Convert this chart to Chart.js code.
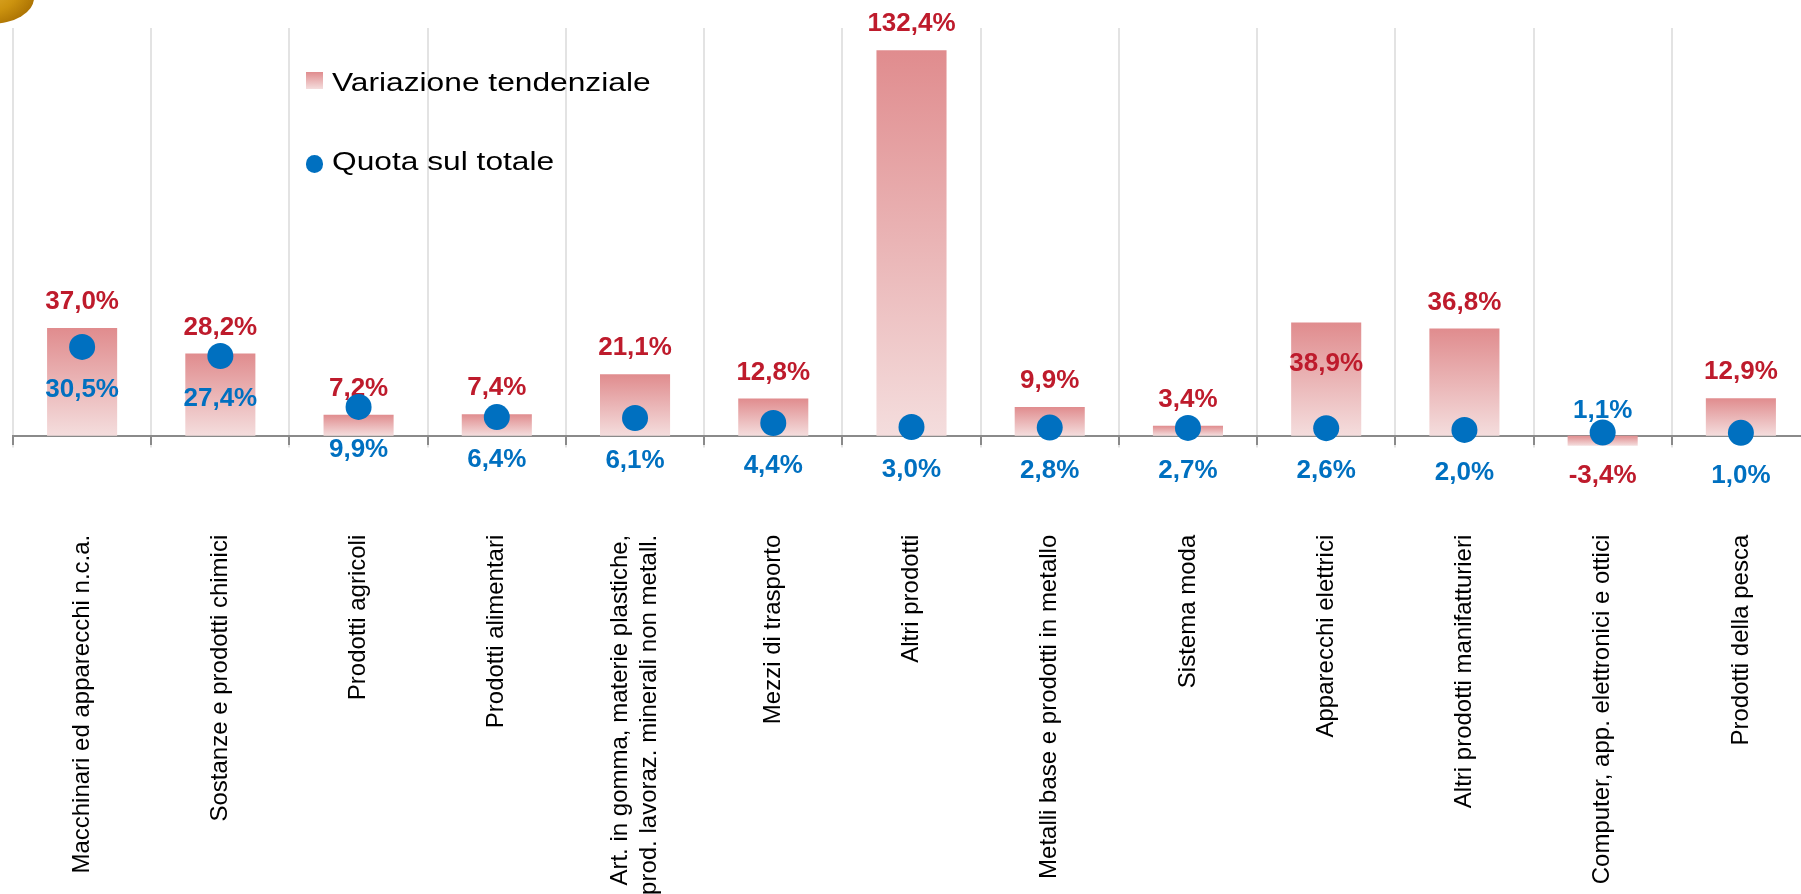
<!DOCTYPE html>
<html>
<head>
<meta charset="utf-8">
<script src="https://cdn.jsdelivr.net/npm/chart.js@4.4.1/dist/chart.umd.min.js"></script>
<style>
html,body{margin:0;padding:0;background:#fff;overflow:hidden;width:1801px;height:894px;}
#wrap{position:relative;width:1801px;height:894px;overflow:hidden;}
#c{position:absolute;left:0;top:0;width:1810px;height:894px;}
.coin{position:absolute;left:-54px;top:-28px;width:88px;height:52px;border-radius:50%;
  background:radial-gradient(ellipse at 45% 25%, #E6B236 0%, #CC930F 50%, #A46B00 85%, #8A5800 100%);}
.legtxt{position:absolute;font-family:'Liberation Sans',Arial,sans-serif;font-size:26px;line-height:26px;color:#000;
  white-space:nowrap;transform:scaleX(1.22);transform-origin:0 0;}
.legsw{position:absolute;}
</style>
</head>
<body>
<div id="wrap">
  <canvas id="c" width="1810" height="894"></canvas>
  <div class="coin"></div>
  <div id="legend"></div>
</div>
<script>
// ---------- DATA ----------
const categories = [
  'Macchinari ed apparecchi n.c.a.',
  'Sostanze e prodotti chimici',
  'Prodotti agricoli',
  'Prodotti alimentari',
  ['Art. in gomma, materie plastiche,', 'prod. lavoraz. minerali non metall.'],
  'Mezzi di trasporto',
  'Altri prodotti',
  'Metalli base e prodotti in metallo',
  'Sistema moda',
  'Apparecchi elettrici',
  'Altri prodotti manifatturieri',
  'Computer, app. elettronici e ottici',
  'Prodotti della pesca'
];
const variazioneTendenziale = [37.0, 28.2, 7.2, 7.4, 21.1, 12.8, 132.4, 9.9, 3.4, 38.9, 36.8, -3.4, 12.9];
const quotaSulTotale = [30.5, 27.4, 9.9, 6.4, 6.1, 4.4, 3.0, 2.8, 2.7, 2.6, 2.0, 1.1, 1.0];
const seriesNames = ['Variazione tendenziale', 'Quota sul totale'];

// ---------- STYLE ----------
const RED = '#BE1B2C';
const BLUE = '#0070C0';
const BAR_TOP = '#E08C8E';
const BAR_BOTTOM = '#F4DDDD';
const FONT = "'Liberation Sans', Arial, sans-serif";
// label placement overrides by category index (style only)
const redPlacement = {9: 'inside'};
const bluePlacement = {11: 'above'};

const fmt = v => v.toFixed(1).replace('.', ',') + '%';

function barGradient(ctx) {
  const chart = ctx.chart;
  const {chartArea, scales} = chart;
  if (!chartArea || !scales.y || ctx.type !== 'data') return BAR_TOP;
  const y0 = scales.y.getPixelForValue(0);
  const y1 = scales.y.getPixelForValue(ctx.raw);
  const top = Math.min(y0, y1), bot = Math.max(y0, y1);
  const g = chart.ctx.createLinearGradient(0, top, 0, bot + 0.01);
  g.addColorStop(0, BAR_TOP);
  g.addColorStop(1, BAR_BOTTOM);
  return g;
}

const multiLineFix = {
  id: 'multiLineFix',
  beforeDraw(chart) {
    const sx = chart.scales.x;
    const items = sx.getLabelItems(chart.chartArea);
    if (items._fixed) return;
    items.forEach(it => {
      if (Array.isArray(it.label) && it.label.length > 1) {
        it.textOffset -= (it.label.length - 1) * it.font.lineHeight / 2;
      }
    });
    items._fixed = true;
  }
};

const valueLabels = {
  id: 'valueLabels',
  afterDatasetDraw(chart, args) {
    if (args.index !== 0) return;
    const ctx = chart.ctx;
    const barMeta = chart.getDatasetMeta(0);
    const dotMeta = chart.getDatasetMeta(1);
    ctx.save();
    ctx.font = 'bold 26px ' + FONT;
    ctx.textAlign = 'center';
    ctx.textBaseline = 'middle';
    barMeta.data.forEach((bar, i) => {
      const v = variazioneTendenziale[i];
      let y;
      if (redPlacement[i] === 'inside') y = bar.y + 41;
      else if (v >= 0) y = bar.y - 26;
      else y = bar.y + 30;
      ctx.fillStyle = RED;
      ctx.fillText(fmt(v), bar.x, y);
    });
    dotMeta.data.forEach((pt, i) => {
      const y = bluePlacement[i] === 'above' ? pt.y - 22 : pt.y + 43;
      ctx.fillStyle = BLUE;
      ctx.fillText(fmt(quotaSulTotale[i]), pt.x, y);
    });
    ctx.restore();
  }
};

const chart = new Chart(document.getElementById('c'), {
  data: {
    labels: categories,
    datasets: [
      {
        type: 'bar',
        label: seriesNames[0],
        data: variazioneTendenziale,
        backgroundColor: barGradient,
        borderWidth: 0,
        barPercentage: 0.507,
        categoryPercentage: 1,
        order: 2
      },
      {
        type: 'line',
        label: seriesNames[1],
        data: quotaSulTotale,
        showLine: false,
        pointRadius: 13,
        pointHoverRadius: 13,
        pointBackgroundColor: BLUE,
        pointBorderWidth: 0,
        borderColor: BLUE,
        backgroundColor: BLUE,
        order: 1
      }
    ]
  },
  options: {
    responsive: false,
    animation: false,
    events: [],
    layout: {autoPadding: false, padding: {top: 28, left: 13, right: 0, bottom: 446.6}},
    plugins: {legend: {display: false}, tooltip: {enabled: false}},
    scales: {
      x: {
        position: {y: 0},
        offset: true,
        grid: {
          offset: true,
          color: '#E3E3E3',
          lineWidth: 2,
          tickLength: 8,
          tickColor: '#8A8A8A',
          tickWidth: 2,
          drawOnChartArea: true
        },
        border: {display: true, color: '#8A8A8A', width: 2},
        ticks: {
          autoSkip: false,
          minRotation: 90,
          maxRotation: 90,
          padding: 91,
          color: '#000',
          font: {family: FONT, size: 24}
        },
        afterFit(scale) {
          scale.paddingLeft = 0;
          scale.paddingRight = 0;
          scale.paddingTop = 0;
          scale.paddingBottom = 0;
        }
      },
      y: {
        display: false,
        min: -4,
        max: 140
      }
    }
  },
  plugins: [multiLineFix, valueLabels]
});

// ---------- LEGEND (HTML, from series names) ----------
(function buildLegend() {
  const leg = document.getElementById('legend');
  const rows = [
    {name: seriesNames[0], sw: 'left:306px;top:72px;width:17px;height:17px;background:linear-gradient(' + BAR_TOP + ',' + BAR_BOTTOM + ');', txtTop: 69},
    {name: seriesNames[1], sw: 'left:305.5px;top:155.3px;width:17.4px;height:17.4px;border-radius:50%;background:' + BLUE + ';', txtTop: 147.5}
  ];
  rows.forEach(r => {
    const s = document.createElement('div');
    s.className = 'legsw';
    s.style.cssText = s.style.cssText + r.sw;
    leg.appendChild(s);
    const t = document.createElement('div');
    t.className = 'legtxt';
    t.style.left = '331.5px';
    t.style.top = r.txtTop + 'px';
    t.textContent = r.name;
    leg.appendChild(t);
  });
})();
</script>
</body>
</html>
